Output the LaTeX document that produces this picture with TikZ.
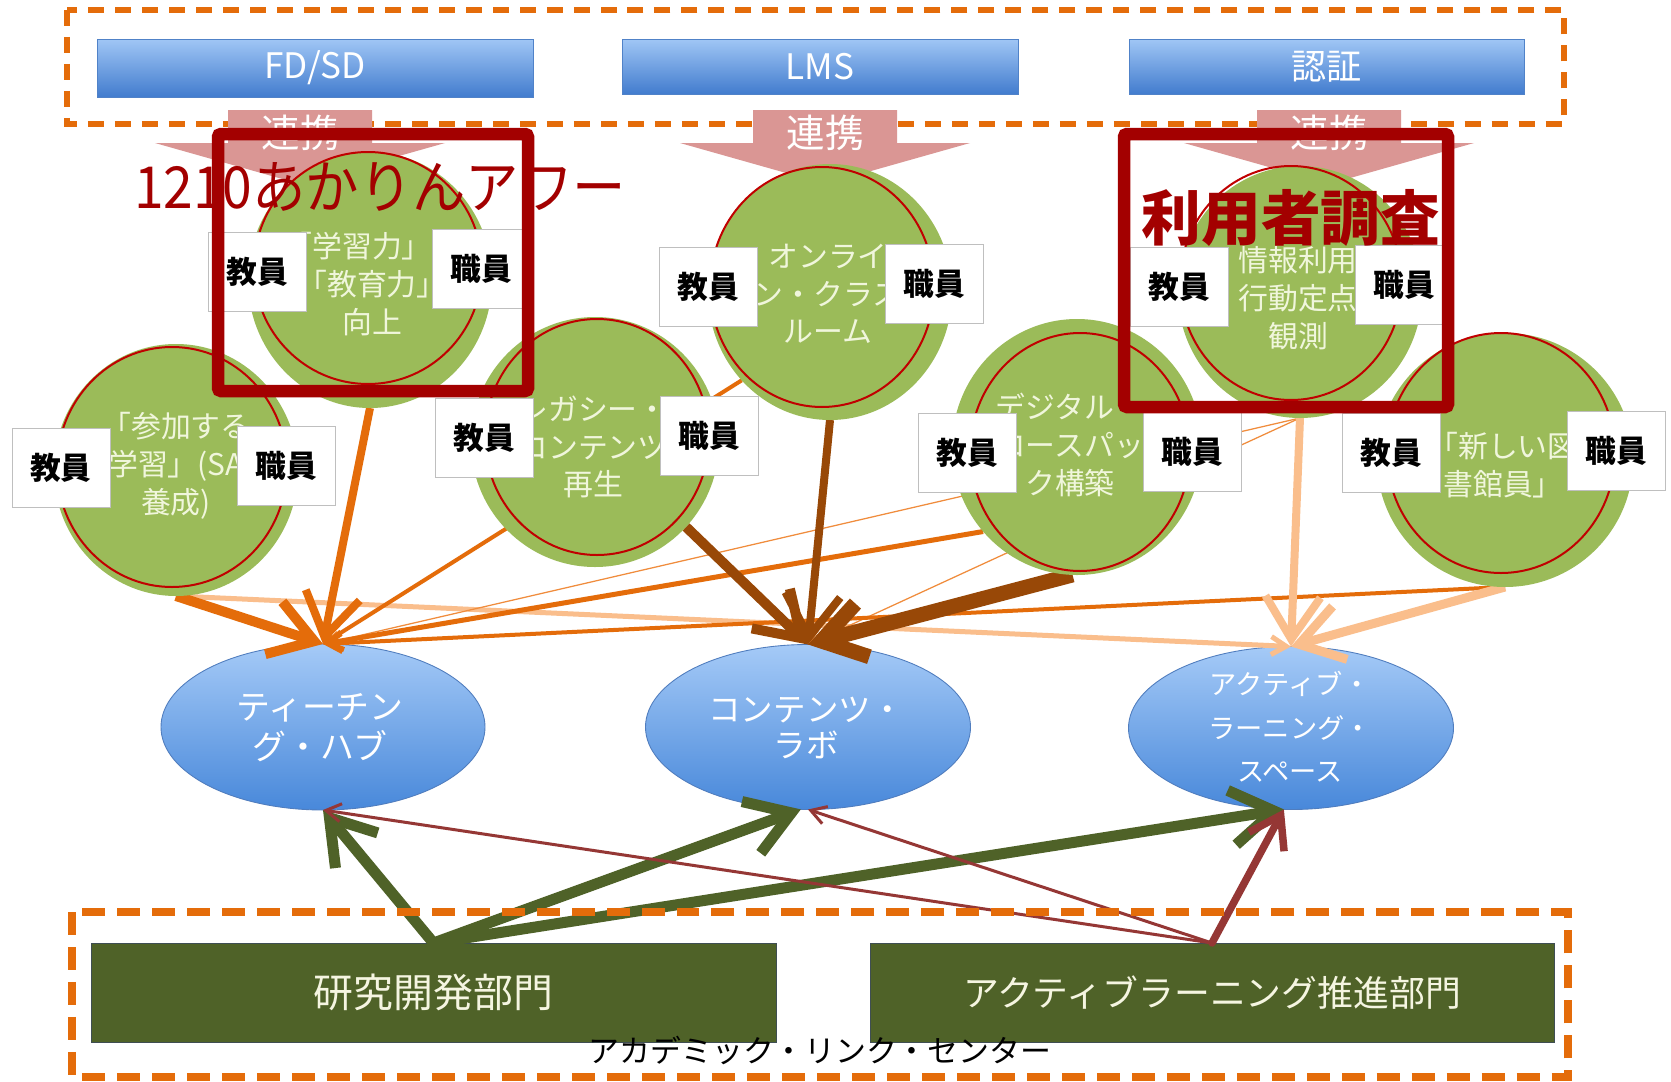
\documentclass[tikz,border=0pt]{standalone}
\usepackage{fontspec}
\setmainfont{Noto Sans CJK JP}
\usetikzlibrary{arrows.meta,shapes.geometric}
\definecolor{dashorange}{RGB}{228,108,10}
\definecolor{barTop}{RGB}{160,198,245}
\definecolor{barBot}{RGB}{66,124,206}
\definecolor{barEdge}{RGB}{80,130,200}
\definecolor{linkpink}{RGB}{218,150,148}
\definecolor{circgreen}{RGB}{155,187,89}
\definecolor{circred}{RGB}{192,0,0}
\definecolor{circtext}{RGB}{240,246,220}
\definecolor{boxred}{RGB}{163,0,0}
\definecolor{hubTop}{RGB}{165,202,247}
\definecolor{hubBot}{RGB}{72,136,218}
\definecolor{hubEdge}{RGB}{80,125,190}
\definecolor{olive}{RGB}{79,98,40}
\definecolor{unittext}{RGB}{245,245,225}
\definecolor{orangeC}{RGB}{228,108,10}
\definecolor{orangeL}{RGB}{240,140,60}
\definecolor{brownC}{RGB}{152,72,7}
\definecolor{peachC}{RGB}{250,190,140}
\definecolor{darkredC}{RGB}{149,55,53}
\pgfdeclarelayer{bgl}
\pgfdeclarelayer{hubl}
\pgfdeclarelayer{connl}
\pgfsetlayers{bgl,hubl,connl,main}
\tikzset{
  topframe/.style={draw=dashorange, line width=0.12cm, dash pattern=on 0.32cm off 0.22cm},
  botframe/.style={draw=dashorange, line width=0.15cm, dash pattern=on 0.46cm off 0.24cm},
  bar/.style={rectangle, inner sep=0, outer sep=0, top color=barTop, bottom color=barBot, draw=barEdge, line width=0.5pt, text=white, font=\fontsize{20}{24}\selectfont},
  linkarrow/.style={fill=linkpink},
  linktext/.style={text=white, font=\fontsize{22}{26}\selectfont},
  gcirc/.style={ellipse, inner sep=0, outer sep=0, fill=circgreen},
  rcirc/.style={ellipse, inner sep=0, outer sep=0, draw=circred, line width=0.04cm},
  ctext/.style={text=circtext, align=center, inner sep=0, font=\fontsize{17}{21.5}\selectfont},
  role/.style={rectangle, fill=white, draw=black!25, line width=0.4pt, minimum width=98*0.02cm, minimum height=79*0.02cm, inner sep=0, font=\bfseries\fontsize{17.5}{20}\selectfont},
  redbox/.style={rectangle, draw=boxred, line width=0.25cm, rounded corners=0.06cm, inner sep=0},
  hub/.style={ellipse, inner sep=0, outer sep=0, top color=hubTop, bottom color=hubBot, draw=hubEdge, line width=0.5pt},
  hubtext/.style={text=white, align=center, inner sep=0},
  unitbox/.style={rectangle, inner sep=0, outer sep=0, fill=olive, draw=olive!80!blue, line width=0.5pt, text=unittext},
  heavyhead/.style={-{Straight Barb[length=0.85cm,width=1.1cm]}},
  midhead/.style={-{Straight Barb[length=0.6cm,width=0.8cm]}},
  lighthead/.style={-{Straight Barb[length=0.3cm,width=0.36cm]}}
}
\begin{document}
\begin{tikzpicture}[x=0.02cm,y=-0.02cm]
\useasboundingbox (0,0) rectangle (1671,1082);
\begin{pgfonlayer}{bgl}
\fill[white] (0,0) rectangle (1671,1082);
\end{pgfonlayer}

% top frame and bars
\draw[topframe] (67,10) rectangle (1564,124);
\node[bar, minimum width=436*0.02cm, minimum height=58*0.02cm] (fdsd) at (315,68) {FD/SD};
\node[bar, minimum width=396*0.02cm, minimum height=55*0.02cm] (lms) at (820,66.5) {LMS};
\node[bar, minimum width=395*0.02cm, minimum height=55*0.02cm] (ninsho) at (1326.5,66.5) {認証};

% link arrows
\foreach \cx/\nm in {300/lk1, 825/lk2, 1329/lk3}{
  \fill[linkarrow] (\cx-72,110) -- (\cx+72,110) -- (\cx+72,143) -- (\cx+145,143) -- (\cx,184) -- (\cx-145,143) -- (\cx-72,143) -- cycle;
  \node[linktext] (\nm) at (\cx,133) {連携};
}

% hubs
\begin{pgfonlayer}{hubl}
\node[hub, minimum width=324*0.02cm, minimum height=166*0.02cm] (e1) at (323,727) {};
\node[hub, minimum width=325*0.02cm, minimum height=165*0.02cm] (e2) at (808,727) {};
\node[hub, minimum width=325*0.02cm, minimum height=163*0.02cm] (e3) at (1291,728) {};
\end{pgfonlayer}
\node[hubtext, font=\fontsize{19.3}{22.7}\selectfont] (e1x) at (320,728) {ティーチン\\グ・ハブ};
\node[hubtext, font=\fontsize{18.5}{21}\selectfont] (e2x) at (806,728) {コンテンツ・\\ラボ};
\node[hubtext, font=\fontsize{15.5}{24.7}\selectfont] (e3x) at (1290,727) {アクティブ・\\ラーニング・\\スペース};

% circles
\node[gcirc, minimum width=244*0.02cm, minimum height=256*0.02cm] (c1) at (370,280) {};
\node[rcirc, minimum width=228*0.02cm, minimum height=232*0.02cm] (c1r) at (368,268) {};
\node[ctext] (c1x) at (372,284) {「学習力」・\\「教育力」\\向上};

\node[gcirc, minimum width=244*0.02cm, minimum height=252*0.02cm] (c2) at (176,470) {};
\node[rcirc, minimum width=230*0.02cm, minimum height=240*0.02cm] (c2r) at (172,467) {};
\node[ctext] (c2x) at (176,466) {「参加する\\学習」(SA\\養成)};

\node[gcirc, minimum width=248*0.02cm, minimum height=250*0.02cm] (c3) at (595,442) {};
\node[rcirc, minimum width=224*0.02cm, minimum height=236*0.02cm] (c3r) at (597,437) {};
\node[ctext] (c3x) at (593,447) {レガシー・\\コンテンツ\\再生};

\node[gcirc, minimum width=244*0.02cm, minimum height=256*0.02cm] (c4) at (830,292) {};
\node[rcirc, minimum width=224*0.02cm, minimum height=240*0.02cm] (c4r) at (822,287) {};
\node[ctext] (c4x) at (828,294) {オンライ\\ン・クラス\\ルーム};

\node[gcirc, minimum width=244*0.02cm, minimum height=252*0.02cm] (c6) at (1300,292) {};
\node[rcirc, minimum width=222*0.02cm, minimum height=234*0.02cm] (c6r) at (1291,283) {};
\node[ctext] (c6x) at (1298,298) {情報利用\\行動定点\\観測};

\node[gcirc, minimum width=250*0.02cm, minimum height=256*0.02cm] (c5) at (1077,447) {};
\node[rcirc, minimum width=220*0.02cm, minimum height=238*0.02cm] (c5r) at (1080,452) {};
\node[ctext] (c5x) at (1070,445) {デジタル・\\コースパッ\\ク構築};

\node[gcirc, minimum width=256*0.02cm, minimum height=254*0.02cm] (c7) at (1505,460) {};
\node[rcirc, minimum width=228*0.02cm, minimum height=240*0.02cm] (c7r) at (1501,453) {};
\node[ctext] (c7x) at (1503,465) {「新しい図\\書館員」};

% connectors (below circles)
\begin{pgfonlayer}{connl}
\draw[peachC, line width=0.1cm, lighthead] (c2.south) -- (e3.north);
\draw[orangeL, line width=0.025cm, lighthead] (c6.south) -- (e1.north);
\draw[orangeL, line width=0.025cm, lighthead] (c6.south) -- (e2.north);
\draw[orangeC, line width=0.08cm, lighthead] (c4.225) -- (e1.north);
\draw[orangeC, line width=0.1cm, lighthead] (c5.222) -- (e1.north);
\draw[orangeC, line width=0.08cm, lighthead] (c7.south) -- (e1.north);
\draw[peachC, line width=0.16cm, heavyhead] (c6.south) -- (e3.north);
\draw[peachC, line width=0.18cm, heavyhead] (c7.south) -- (e3.north);
\draw[brownC, line width=0.2cm, heavyhead] (c3.317) -- (e2.north);
\draw[brownC, line width=0.16cm, heavyhead] (c4.south) -- (e2.north);
\draw[brownC, line width=0.3cm, heavyhead] (c5.268) -- (e2.north);
\draw[orangeC, line width=0.16cm, heavyhead] (c1.south) -- (e1.north);
\draw[orangeC, line width=0.2cm, heavyhead] (c2.south) -- (e1.north);
\end{pgfonlayer}

% role boxes
\node[role] (c1k) at (257.5,272) {教員};
\node[role] (c1s) at (481,268.5) {職員};
\node[role] (c2k) at (61,468) {教員};
\node[role] (c2s) at (286,466) {職員};
\node[role] (c3k) at (484,437.5) {教員};
\node[role] (c3s) at (709.5,435.5) {職員};
\node[role] (c4k) at (708.5,287) {教員};
\node[role] (c4s) at (934,284) {職員};
\node[role] (c5k) at (967,453) {教員};
\node[role] (c5s) at (1192,451.5) {職員};
\node[role] (c6k) at (1179.5,286.5) {教員};
\node[role] (c6s) at (1404,285) {職員};
\node[role] (c7k) at (1391.5,453) {教員};
\node[role] (c7s) at (1616,451) {職員};

% red highlight boxes and texts
\node[redbox, minimum width=310*0.02cm, minimum height=257*0.02cm] (rb1) at (373,262.5) {};
\node[redbox, minimum width=324*0.02cm, minimum height=273*0.02cm] (rb2) at (1286,270.5) {};
\node[text=boxred, inner sep=0, font=\fontsize{33}{36}\selectfont] (award) at (380,187) {\scalebox{0.92}[1]{1210あかりんアワー}};
\node[text=boxred, inner sep=0, font=\bfseries\fontsize{34}{38}\selectfont] (survey) at (1291,218) {利用者調査};

% bottom units
\node[unitbox, minimum width=685*0.02cm, minimum height=99*0.02cm, font=\fontsize{22.7}{26}\selectfont] (b1) at (433.5,992.5) {研究開発部門};
\node[unitbox, minimum width=684*0.02cm, minimum height=99*0.02cm, font=\fontsize{20.4}{24}\selectfont] (b2) at (1212,992.5) {アクティブラーニング推進部門};

\draw[olive, line width=0.22cm, line cap=round, heavyhead] (b1.north) -- (e1.south);
\draw[olive, line width=0.22cm, line cap=round, heavyhead] (b1.north) -- (e2.265);
\draw[olive, line width=0.22cm, line cap=round, heavyhead] (b1.north) -- (e3.265);
\draw[darkredC, line width=0.06cm, lighthead] (b2.north) -- (e1.south);
\draw[darkredC, line width=0.06cm, lighthead] (b2.north) -- (e2.south);
\draw[darkredC, line width=0.15cm, line cap=round, midhead] (b2.north) -- (e3.265);

\draw[botframe] (72,912) rectangle (1568,1077);
\node[inner sep=0, font=\fontsize{17.6}{20}\selectfont] (alc) at (820,1050) {アカデミック・リンク・センター};
\end{tikzpicture}
\end{document}
